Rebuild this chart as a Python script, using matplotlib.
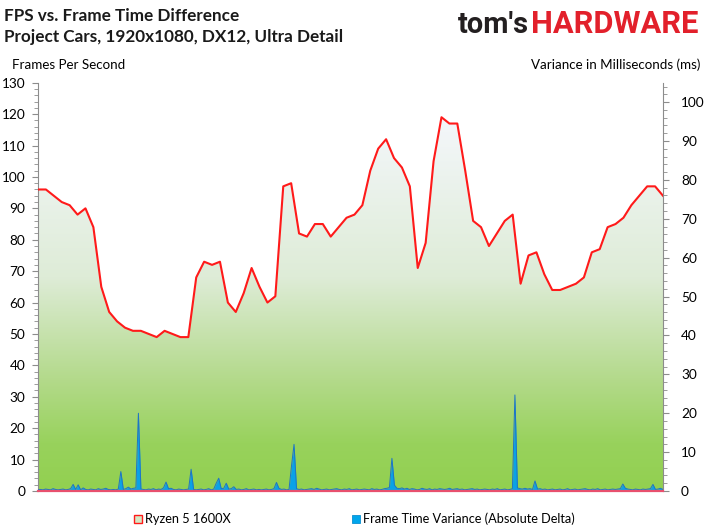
import numpy as np
import matplotlib
matplotlib.use("Agg")
import matplotlib.pyplot as plt
from matplotlib.colors import LinearSegmentedColormap
from matplotlib.patches import Rectangle
from matplotlib.ticker import MultipleLocator

plt.rcParams['font.family'] = ['Lato', 'DejaVu Sans']

# ---- data ----
fps = [96, 96, 94, 92, 91, 88, 90, 84, 65, 57,
       54, 52, 51, 51, 50, 49, 51, 50, 49, 49,
       68, 73, 72, 73, 60, 57, 63, 71, 65, 60,
       62, 97, 98, 82, 81, 85, 85, 81, 84, 87,
       88, 91, 102, 109, 112, 106, 103, 97, 71, 79,
       105, 119, 117, 117, 102, 86, 84, 78, 82, 86,
       88, 66, 75, 76, 69, 64, 64, 65, 66, 68,
       76, 77, 84, 85, 87, 91, 94, 97, 97, 94]

variance = [0.3, 0.4, 0.3, 0.5, 0.4, 0.3, 0.6, 0.4, 0.3, 0.4,
            0.5, 0.3, 0.4, 0.6, 1.7, 0.4, 1.6, 0.3, 0.8, 0.4,
            0.3, 0.5, 0.4, 0.3, 0.6, 0.4, 0.5, 0.7, 0.4, 0.3,
            0.4, 0.3, 0.5, 5.0, 0.4, 0.6, 1.0, 0.5, 0.7, 0.8,
            20.0, 0.5, 0.4, 0.3, 0.5, 0.4, 0.6, 0.3, 0.5, 0.4,
            0.8, 2.3, 0.6, 0.7, 0.4, 0.3, 0.5, 0.4, 0.3, 0.4,
            0.5, 5.6, 0.4, 0.3, 0.4, 0.5, 0.3, 0.4, 0.6, 0.3,
            0.5, 2.0, 3.3, 0.6, 0.7, 2.0, 0.5, 0.6, 1.1, 0.4,
            0.5, 0.3, 0.4, 0.6, 0.3, 0.4, 0.5, 0.3, 0.4, 0.3,
            0.4, 0.5, 0.3, 0.4, 0.6, 2.2, 0.7, 0.4, 0.5, 0.3,
            0.4, 6.5, 12.0, 0.6, 0.4, 0.5, 0.3, 0.4, 0.5, 0.6,
            0.4, 0.7, 0.5, 0.3, 0.4, 0.5, 0.3, 0.4, 0.5, 0.6,
            0.4, 0.3, 0.5, 0.4, 0.6, 0.3, 0.4, 0.5, 0.3, 0.4,
            0.5, 0.4, 0.3, 0.6, 0.4, 0.5, 0.3, 0.4, 0.6, 0.7,
            0.9, 8.4, 1.5, 0.7, 0.6, 0.8, 0.5, 0.7, 0.4, 0.6,
            0.5, 0.3, 0.4, 0.7, 0.5, 0.4, 0.6, 0.3, 0.5, 0.4,
            0.6, 0.5, 0.4, 0.5, 0.7, 0.4, 0.5, 0.6, 0.4, 0.5,
            0.3, 0.4, 0.5, 0.6, 0.4, 0.5, 0.3, 0.4, 0.5, 0.4,
            0.3, 0.5, 0.4, 0.6, 0.3, 0.4, 0.5, 0.3, 0.4, 0.6,
            24.7, 0.8, 0.6, 0.5, 0.7, 0.5, 0.6, 0.4, 2.6, 0.5,
            0.6, 0.4, 0.5, 0.3, 0.4, 0.5, 0.3, 0.4, 0.5, 0.3,
            0.4, 0.6, 0.3, 0.4, 0.5, 0.3, 0.4, 0.5, 0.6, 0.4,
            0.3, 0.5, 0.4, 0.6, 0.3, 0.4, 0.5, 0.3, 0.4, 0.5,
            0.4, 0.5, 0.6, 1.8, 0.7, 0.5, 0.4, 0.3, 0.5, 0.4,
            0.3, 0.5, 0.4, 0.5, 0.6, 1.7, 0.4, 0.5, 0.7, 0.4]

left_ticks = list(range(0, 131, 10))
right_ticks = list(range(0, 101, 10))
series_names = ["Ryzen 5 1600X", "Frame Time Variance (Absolute Delta)"]

# ---- figure ----
W, H = 708, 531
fig = plt.figure(figsize=(W / 100, H / 100), dpi=100)
ax = fig.add_axes([38 / W, 40 / H, 625 / W, 408.3 / H])

x_fps = np.linspace(0, 1, len(fps))
x_var = np.linspace(0, 1, len(variance))

# gradient area under FPS line
stops = [(0, (146, 208, 80)), (15, (152, 210, 92)), (36, (180, 218, 140)),
         (68, (222, 236, 215)), (119, (244, 247, 251))]
top = max(fps)
cmap = LinearSegmentedColormap.from_list(
    'g', [(v / top, tuple(c / 255 for c in col)) for v, col in stops])
grad = np.linspace(0, 1, 256).reshape(-1, 1)
im = ax.imshow(grad, extent=[0, 1, 0, top], origin='lower', aspect='auto',
               cmap=cmap, zorder=1, interpolation='bilinear')
poly = ax.fill_between(x_fps, fps, 0, facecolor='none', edgecolor='none')
im.set_clip_path(poly.get_paths()[0], ax.transData)
ax.plot(x_fps, fps, color='#FF1A1A', lw=1.5, zorder=3)
ax.set_xlim(0, 1)
ax.set_ylim(0, 130)

ax2 = ax.twinx()
ax2.fill_between(x_var, variance, 0, color='#0AA2E6', lw=0, zorder=2)
ax2.plot(x_var, variance, color='#1F74C4', lw=0.7, zorder=3)
ax2.axhline(0, color='#E8506E', lw=1.6, zorder=4, clip_on=False)
ax2.set_ylim(0, 105)
ax2.set_xlim(0, 1)

grey = '#8C8C8C'
for s in ['top', 'bottom', 'right']:
    ax.spines[s].set_visible(False)
for s in ['top', 'bottom', 'left']:
    ax2.spines[s].set_visible(False)
ax.spines['left'].set_color(grey)
ax2.spines['right'].set_color(grey)

ax.set_xticks([])
ax2.set_xticks([])
ax.set_yticks(left_ticks)
ax.set_yticklabels([str(t) for t in left_ticks])
ax.yaxis.set_minor_locator(MultipleLocator(2))
ax2.set_yticks(right_ticks)
ax2.set_yticklabels([str(t) for t in right_ticks])
ax2.yaxis.set_minor_locator(MultipleLocator(2))
for a, pad in ((ax, 5), (ax2, 9)):
    a.tick_params(axis='y', which='major', direction='out', length=4,
                  color=grey, labelsize=9.8, pad=pad, labelcolor='#000000')
    a.tick_params(axis='y', which='minor', direction='out', length=3,
                  color=grey)

# titles
fig.text(4 / W, 1 - 16 / H, "FPS vs. Frame Time Difference", fontsize=12.3,
         fontweight='bold', va='center', ha='left', color='#1a1a1a')
fig.text(4 / W, 1 - 37 / H, "Project Cars, 1920x1080, DX12, Ultra Detail",
         fontsize=12.3, fontweight='bold', va='center', ha='left', color='#1a1a1a')

# logo (real text, font size fitted to the logo's width)
renderer = fig.canvas.get_renderer()
logo_parts = [("tom's", '#231F20', 458, 71), ("HARDWARE", '#E2202B', 531, 167)]
for txt, col, x0, wid in logo_parts:
    t = fig.text(x0 / W, 1 - 33 / H, txt, fontsize=20, fontweight='bold',
                 family=['Roboto', 'DejaVu Sans'], color=col, ha='left',
                 va='baseline')
    w = t.get_window_extent(renderer).width
    t.set_fontsize(20 * wid / w)

# axis titles
fig.text(12 / W, 1 - 65 / H, "Frames Per Second", fontsize=9.6, va='center', ha='left')
fig.text(700 / W, 1 - 65 / H, "Variance in Milliseconds (ms)", fontsize=9.6,
         va='center', ha='right')

# legend
ly = 1 - 519 / H
fig.patches.append(Rectangle((134 / W, ly - 4 / H), 7.5 / W, 8 / H,
                             transform=fig.transFigure, facecolor='#D4E8C4',
                             edgecolor='#FF1A1A', lw=1.0))
fig.text(145 / W, ly, series_names[0], fontsize=9.2, va='center', ha='left')
fig.patches.append(Rectangle((352 / W, ly - 4 / H), 7.5 / W, 8 / H,
                             transform=fig.transFigure, facecolor='#00A6EC',
                             edgecolor='#0A8FD0', lw=0.6))
fig.text(363 / W, ly, series_names[1], fontsize=9.2, va='center', ha='left')

fig.savefig("out.png", dpi=100)
